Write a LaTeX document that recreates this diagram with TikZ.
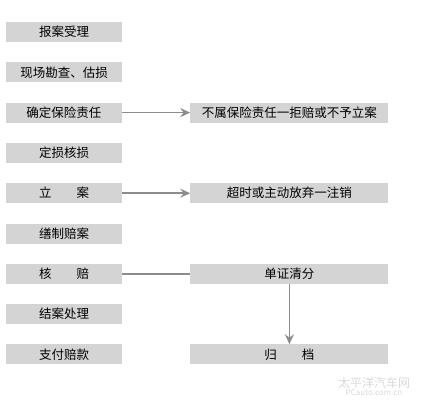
\documentclass[tikz,border=0pt]{standalone}
\usepackage{fontspec}
\setmainfont{Noto Sans CJK SC}
\usepackage{xcolor}
\usepackage{tikz}
\usetikzlibrary{arrows.meta, positioning}
\definecolor{boxgray}{HTML}{D4D4D4}
\definecolor{linegray}{HTML}{8C8C8C}
\tikzstyle{stage} = [rectangle, minimum width=116pt, minimum height=20pt, inner sep=0pt, text centered, fill=boxgray, font=\fontsize{12.5}{14}\selectfont]
\tikzstyle{result} = [rectangle, minimum width=198pt, minimum height=20pt, inner sep=0pt, text centered, fill=boxgray, font=\fontsize{12.5}{14}\selectfont]
\tikzstyle{arrow} = [line width=1.6pt, draw=linegray, -{Stealth[length=10pt, width=9pt, inset=3.5pt]}]
\tikzstyle{link} = [line width=1.6pt, draw=linegray]

\begin{document}
\begin{tikzpicture}[x=1pt, y=1pt, node distance=19.9pt]
    \useasboundingbox (0,0) rectangle (423,-405);
    % Main steps
    \node (baoan) [stage] at (64,-32) {报案受理};
    \node (kancha) [stage, below=of baoan] {现场勘查、估损};
    \node (zeren) [stage, below=of kancha] {确定保险责任};
    \node (dingsun) [stage, below=of zeren] {定损核损};
    \node (lian) [stage, below=of dingsun] {立\quad\quad 案};
    \node (shanzhi) [stage, below=of lian] {缮制赔案};
    \node (hepei) [stage, below=of shanzhi] {核\quad\quad 赔};
    \node (jiean) [stage, below=of hepei] {结案处理};
    \node (zhifu) [stage, below=of jiean] {支付赔款};

    % Side branches
    \node (jupei) [result, right=68pt of zeren] {不属保险责任一拒赔或不予立案};
    \node (zhuxiao) [result, right=68pt of lian] {超时或主动放弃一注销};
    \node (qingfen) [result, right=68pt of hepei] {单证清分};
    \node (guidang) [result, right=68pt of zhifu] {归\quad\quad 档};

    % Arrows
    \draw [arrow] (zeren) -- (jupei);
    \draw [arrow] (lian) -- (zhuxiao);
    \draw [link] (hepei) -- (qingfen);
    \draw [arrow] (qingfen) -- (guidang);

    % Watermark
    \node (mark) [text=gray!30, font=\fontsize{12}{13}\selectfont, inner sep=0pt] at (374,-383) {太平洋汽车网};
    \node (site) [text=gray!30, font=\fontsize{8}{9}\selectfont, inner sep=0pt, below=1pt of mark] {PCauto.com.cn};
\end{tikzpicture}
\end{document}
